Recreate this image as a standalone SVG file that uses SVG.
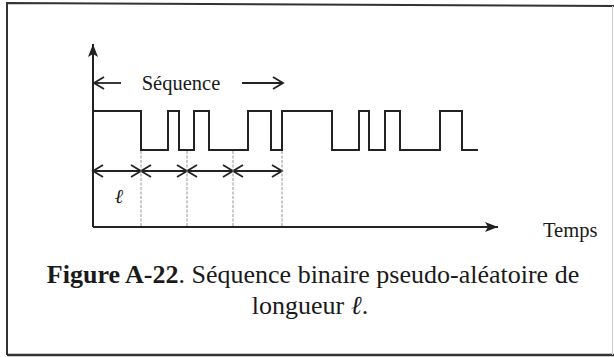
<svg xmlns="http://www.w3.org/2000/svg" width="614" height="357" viewBox="0 0 614 357">
<style>
.ln{fill:none;stroke:#222;stroke-width:2;stroke-linecap:butt;stroke-linejoin:miter}
.thin{fill:none;stroke:#222;stroke-width:1.8}
.dash{fill:none;stroke:#888;stroke-width:0.9;stroke-dasharray:3,1.5}
.t{font-family:"Liberation Serif","Times New Roman",serif;fill:#1a1a1a}
</style>
<defs>
<marker id="open" markerWidth="14" markerHeight="14" refX="11" refY="7" orient="auto-start-reverse" markerUnits="userSpaceOnUse">
<path d="M1,1 L11,7 L1,13" fill="none" stroke="#222" stroke-width="1.8"/>
</marker>
<marker id="solid" markerWidth="14" markerHeight="12" refX="13" refY="6" orient="auto" markerUnits="userSpaceOnUse">
<path d="M0,1 L13,6 L0,11 L3,6 Z" fill="#222"/>
</marker>
</defs>
<rect x="0" y="0" width="614" height="357" fill="#fff"/>
<g id="frame">
<path d="M7,355 L7,3 L614,6" fill="none" stroke="#333" stroke-width="2"/>
<path d="M7,355 L614,355" fill="none" stroke="#333" stroke-width="2.5"/>
<path d="M612.5,6 L612.5,355" fill="none" stroke="#ccc" stroke-width="1"/>
</g>
<g id="connectors">
<path id="y-axis" class="ln" d="M93,227 L93,44" marker-end="url(#solid)"/>
<path id="x-axis" class="ln" d="M93,227 L498,227" marker-end="url(#solid)"/>
<path class="thin" d="M121,83 L94,83" marker-end="url(#open)"/>
<path class="thin" d="M242,83 L283,83" marker-end="url(#open)"/>
<path class="thin" d="M93,171 L141,171" marker-start="url(#open)" marker-end="url(#open)"/>
<path class="thin" d="M141,171 L187,171" marker-start="url(#open)" marker-end="url(#open)"/>
<path class="thin" d="M187,171 L233,171" marker-start="url(#open)" marker-end="url(#open)"/>
<path class="thin" d="M233,171 L282,171" marker-start="url(#open)" marker-end="url(#open)"/>
<path class="dash" d="M141,151 V227 M187,151 V227 M233,151 V227 M282,151 V227"/>
</g>
<g id="signal">
<path class="ln" d="M93,111 H141 V150 H168 V111 H179 V150 H194 V111 H209 V150 H248 V111 H271 V150 H282 V111 H332 V150 H359 V111 H369 V150 H385 V111 H400 V150 H440 V111 H462 V150 H478"/>
</g>
<g id="labels">
<text class="t" x="181" y="90" font-size="20.5" text-anchor="middle">Séquence</text>
<text class="t" x="119" y="203" font-size="20" font-style="italic" text-anchor="middle">ℓ</text>
<text class="t" x="543" y="237" font-size="20.5">Temps</text>
</g>
<g id="caption">
<text class="t" x="313" y="283" font-size="26" text-anchor="middle"><tspan font-weight="bold">Figure A-22</tspan>. Séquence binaire pseudo-aléatoire de</text>
<text class="t" x="310" y="314" font-size="26" text-anchor="middle">longueur <tspan font-style="italic">ℓ</tspan>.</text>
</g>
</svg>
